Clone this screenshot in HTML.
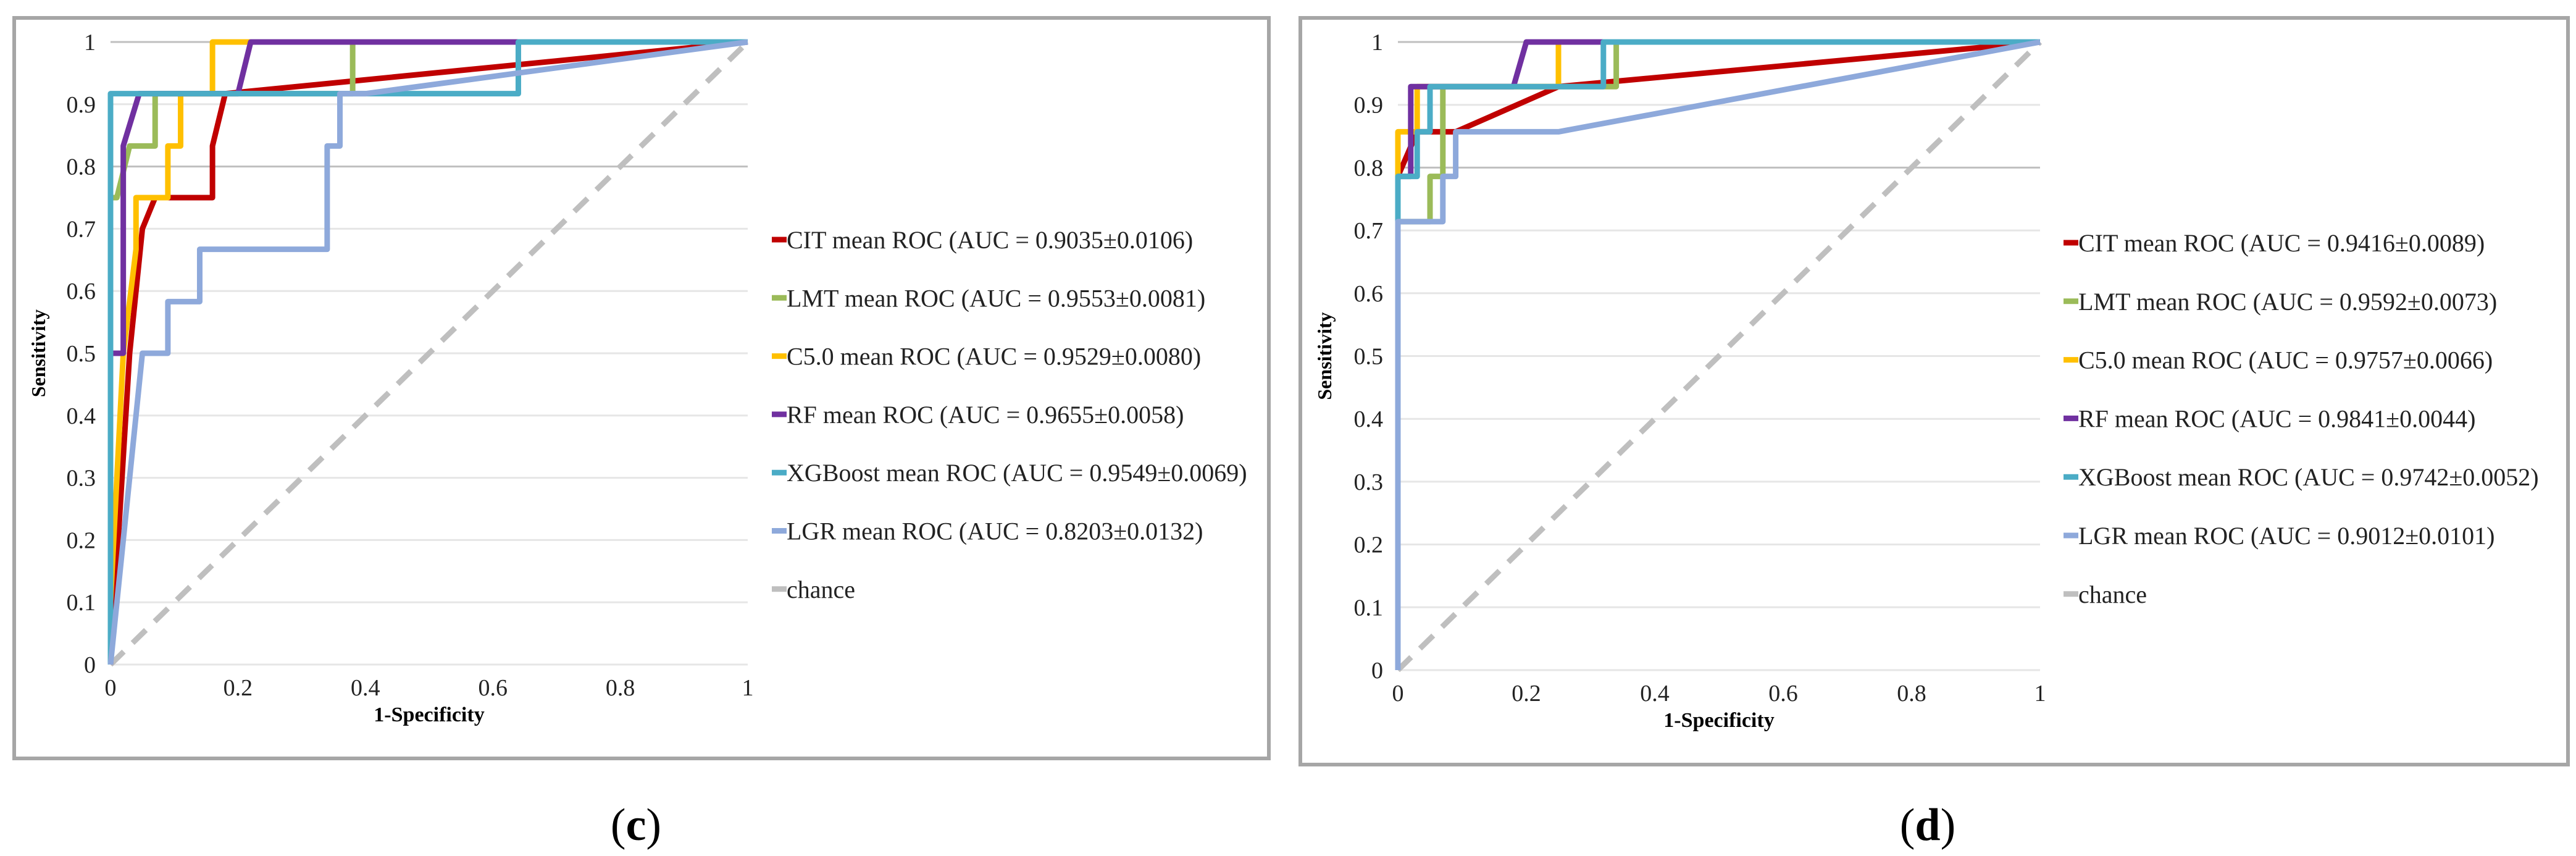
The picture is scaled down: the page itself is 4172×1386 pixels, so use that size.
<!DOCTYPE html>
<html><head><meta charset="utf-8"><style>
html,body{margin:0;padding:0;background:#fff;}
svg{display:block;font-family:"Liberation Serif",serif;}
</style></head><body>
<svg id="svg" width="4172" height="1386" viewBox="0 0 4172 1386" xmlns="http://www.w3.org/2000/svg"></svg>
<script>
const seriesNames = ["CIT","LMT","C5.0","RF","XGBoost","LGR"];
const seriesColors = ["#C00000","#9BBB59","#FFC000","#7030A0","#4BACC6","#8EA9DB"];
const yTicks = [0,0.1,0.2,0.3,0.4,0.5,0.6,0.7,0.8,0.9,1];
const xTicks = [0,0.2,0.4,0.6,0.8,1];
const aucC = ["0.9035±0.0106","0.9553±0.0081","0.9529±0.0080","0.9655±0.0058","0.9549±0.0069","0.8203±0.0132"];
const aucD = ["0.9416±0.0089","0.9592±0.0073","0.9757±0.0066","0.9841±0.0044","0.9742±0.0052","0.9012±0.0101"];
const citC = [[0,0],[0.03,0.5],[0.05,0.7],[0.07,0.75],[0.16,0.75],[0.16,0.833],[0.18,0.917],[1,1]];
const lmtC = [[0,0],[0,0.75],[0.01,0.75],[0.03,0.833],[0.07,0.833],[0.07,0.917],[0.38,0.917],[0.38,1],[1,1]];
const c50C = [[0,0.1],[0.01,0.3],[0.02,0.5],[0.04,0.667],[0.04,0.75],[0.09,0.75],[0.09,0.833],[0.11,0.833],[0.11,0.917],[0.16,0.917],[0.16,1],[0.22,1]];
const rfC = [[0,0.5],[0.02,0.5],[0.02,0.833],[0.045,0.917],[0.2,0.917],[0.22,1],[1,1]];
const xgbC = [[0,0],[0,0.917],[0.64,0.917],[0.64,1],[1,1]];
const lgrC = [[0,0],[0.05,0.5],[0.09,0.5],[0.09,0.583],[0.14,0.583],[0.14,0.667],[0.34,0.667],[0.34,0.833],[0.36,0.833],[0.36,0.917],[0.4,0.917],[1,1]];
const citD = [[0,0.786],[0.03,0.857],[0.09,0.857],[0.25,0.929],[1,1]];
const lmtD = [[0,0.714],[0.05,0.714],[0.05,0.786],[0.07,0.786],[0.07,0.929],[0.34,0.929],[0.34,1],[1,1]];
const c50D = [[0,0.786],[0,0.857],[0.03,0.857],[0.03,0.929],[0.25,0.929],[0.25,1],[1,1]];
const rfD = [[0,0.786],[0.02,0.786],[0.02,0.929],[0.18,0.929],[0.2,1],[1,1]];
const xgbD = [[0,0.714],[0,0.786],[0.03,0.786],[0.03,0.857],[0.05,0.857],[0.05,0.929],[0.32,0.929],[0.32,1],[1,1]];
const lgrD = [[0,0],[0,0.714],[0.07,0.714],[0.07,0.786],[0.09,0.786],[0.09,0.857],[0.25,0.857],[1,1]];

const NS="http://www.w3.org/2000/svg";
const svg=document.getElementById('svg');
function mk(tag,attrs,parent){const e=document.createElementNS(NS,tag);for(const k in attrs)e.setAttribute(k,attrs[k]);(parent||svg).appendChild(e);return e;}

function panel(cfg){
  const g=mk('g',{});
  
  
  const fr=mk('rect',{x:cfg.fx0,y:cfg.fy0,width:cfg.fx1-cfg.fx0,height:cfg.fy1-cfg.fy0,fill:'#fff',stroke:'#A6A6A6','stroke-width':6},g);
  
  
  const sx=v=>cfg.x0+v*(cfg.x1-cfg.x0);
  const sy=v=>cfg.y0+v*(cfg.y1-cfg.y0);
  yTicks.forEach(t=>{
    const l=mk('line',{x1:sx(0),x2:sx(1),y1:sy(t),y2:sy(t),stroke:(t==0.8||t==1)?'#BFBFBF':'#E6E6E6','stroke-width':3},g);
    
    
    const tx=mk('text',{x:sx(0)-24,y:sy(t)+13,'font-size':38,'text-anchor':'end',fill:'#222'},g);
    tx.textContent=String(t);
    
    
  });
  xTicks.forEach(t=>{
    const tx=mk('text',{x:sx(t),y:sy(0)+50,'font-size':38,'text-anchor':'middle',fill:'#222'},g);
    tx.textContent=String(t);
    
    
  });
  const yt=mk('text',{x:0,y:0,'font-size':32,'font-weight':'bold','text-anchor':'middle',transform:`translate(${cfg.fx0+50},${(sy(0)+sy(1))/2}) rotate(-90)`},g);
  yt.textContent='Sensitivity';
  
  
  const xt=mk('text',{x:(sx(0)+sx(1))/2,y:sy(0)+92,'font-size':34,'font-weight':'bold','text-anchor':'middle'},g);
  xt.textContent='1-Specificity';
  
  
  const ch=mk('line',{x1:sx(0),y1:sy(0),x2:sx(1),y2:sy(1),stroke:'#BFBFBF','stroke-width':9,'stroke-dasharray':'30,20'},g);
  
  
  cfg.series.forEach((pts,i)=>{
    const p=mk('polyline',{points:pts.map(q=>sx(q[0])+','+sy(q[1])).join(' '),fill:'none',stroke:seriesColors[i],'stroke-width':9,'stroke-linejoin':'round'},g);
    
    
  });
  const labels=seriesNames.map((n,i)=>n+' mean ROC (AUC = '+cfg.auc[i]+')').concat(['chance']);
  const cols=seriesColors.concat(['#BFBFBF']);
  labels.forEach((lab,i)=>{
    const y=cfg.ly0+i*cfg.ldy;
    const le=mk('g',{},g);
    
    
    mk('line',{x1:cfg.lx,x2:cfg.lx+24,y1:y,y2:y,stroke:cols[i],'stroke-width':9},le);
    const t=mk('text',{x:cfg.lx+24,y:y+14,'font-size':40,fill:'#222'},le);
    t.textContent=lab;
  });
  const cap=mk('text',{x:cfg.cx,y:1360,'font-size':74,'text-anchor':'middle'},g);
  
  
  const a=mk('tspan',{},cap); a.textContent='(';
  const b=mk('tspan',{'font-weight':'bold'},cap); b.textContent=cfg.cap;
  const c=mk('tspan',{},cap); c.textContent=')';
}
panel({id:'c',fx0:23,fy0:29,fx1:2055,fy1:1228,x0:179,x1:1211,y0:1076,y1:68,
  series:[citC,lmtC,c50C,rfC,xgbC,lgrC],auc:aucC,lx:1250,ly0:388,ldy:94.3,cx:1030,cap:'c'});
panel({id:'d',fx0:2106,fy0:29,fx1:4159,fy1:1238,x0:2264,x1:3304,y0:1085,y1:68,
  series:[citD,lmtD,c50D,rfD,xgbD,lgrD],auc:aucD,lx:3342,ly0:393,ldy:94.8,cx:3122,cap:'d'});
</script>
</body></html>
